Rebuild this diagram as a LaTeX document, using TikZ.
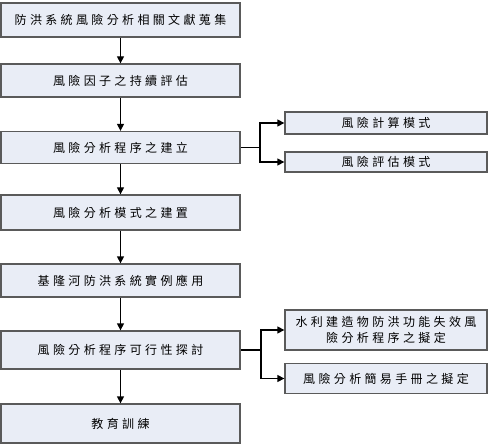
\documentclass[tikz,border=0pt]{standalone}
\usepackage{fontspec}
\newfontfamily\cjk[LetterSpace=28]{Noto Sans CJK TC}
\usetikzlibrary{arrows.meta}
\definecolor{boxfill}{HTML}{E9EDF6}
\definecolor{boxline}{HTML}{5A5A5A}
\begin{document}
\begin{tikzpicture}[x=1pt,y=-1pt,
  flowbox/.style={draw=boxline,fill=boxfill,line width=1.3pt,inner sep=0pt,font=\cjk\fontsize{12}{16}\selectfont,align=center},
  flowarrow/.style={line width=1.3pt,-{Triangle[length=7pt,width=7pt]}},
  flowline/.style={line width=1.3pt}]
\useasboundingbox (0,0) rectangle (491,444);
% left column
\node[flowbox,minimum width=239pt,minimum height=34pt] (b1) at (120.5,20) {防洪系統風險分析相關文獻蒐集};
\node[flowbox,minimum width=239pt,minimum height=33pt] (b2) at (120.5,80.5) {風險因子之持續評估};
\node[flowbox,minimum width=239pt,minimum height=32pt] (b3) at (120.5,147.5) {風險分析程序之建立};
\node[flowbox,minimum width=239pt,minimum height=35pt] (b4) at (120.5,212.5) {風險分析模式之建置};
\node[flowbox,minimum width=239pt,minimum height=33pt] (b5) at (120.5,280.5) {基隆河防洪系統實例應用};
\node[flowbox,minimum width=239pt,minimum height=38pt] (b6) at (120.5,350) {風險分析程序可行性探討};
\node[flowbox,minimum width=239pt,minimum height=39pt] (b7) at (120.5,423.5) {教育訓練};
% right column
\node[flowbox,minimum width=202pt,minimum height=22pt] (r1) at (386,123) {風險計算模式};
\node[flowbox,minimum width=202pt,minimum height=20pt] (r2) at (386,162) {風險評估模式};
\node[flowbox,minimum width=202pt,minimum height=40pt] (r3) at (386,330) {水利建造物防洪功能失效風\\險分析程序之擬定};
\node[flowbox,minimum width=202pt,minimum height=30pt] (r4) at (386,378.5) {風險分析簡易手冊之擬定};
% vertical arrows
\draw[flowarrow] (b1) -- (b2);
\draw[flowarrow] (b2) -- (b3);
\draw[flowarrow] (b3) -- (b4);
\draw[flowarrow] (b4) -- (b5);
\draw[flowarrow] (b5) -- (b6);
\draw[flowarrow] (b6) -- (b7);
% branches
\coordinate (j1) at (260,147.5);
\draw[flowline] (b3.east) -- (j1);
\draw[flowarrow] (j1) |- (r1.west);
\draw[flowarrow] (j1) |- (r2.west);
\coordinate (j2) at (261,350);
\draw[flowline] (b6.east) -- (j2);
\draw[flowarrow] (j2) |- (r3.west);
\draw[flowarrow] (j2) |- (r4.west);
\end{tikzpicture}
\end{document}
